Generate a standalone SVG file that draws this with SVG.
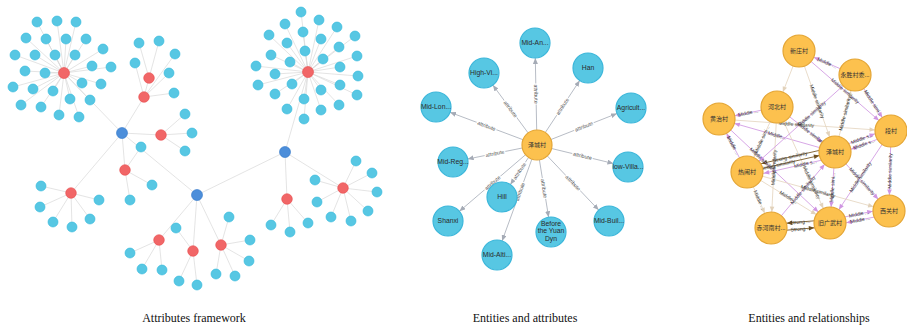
<svg xmlns="http://www.w3.org/2000/svg" width="907" height="329" viewBox="0 0 907 329">
<style>
.c{fill:#57c7e3;stroke:#33b8dc;stroke-width:0.6}
.r{fill:#f16667;stroke:#e84a4b;stroke-width:0.6}
.b{fill:#4c8eda;stroke:#2f76c8;stroke-width:0.6}
.mc{fill:#57c7e3;stroke:#3bb6da;stroke-width:1.2}
.o{fill:#fcc14e;stroke:#e4a534;stroke-width:1.2}
.le{stroke:#d9d9d9;stroke-width:0.7;fill:none}
.me{stroke:#a5abb6;stroke-width:0.8}
.pe{stroke:#d29de3;stroke-width:0.9}
.be{stroke:#e6d8c4;stroke-width:0.9}
.se{stroke:#7a5a28;stroke-width:0.9}
.ml{font-family:"Liberation Sans",Arial,sans-serif;font-size:5.3px;fill:#555;text-anchor:middle}
.rl{font-family:"Liberation Sans",Arial,sans-serif;font-size:5px;fill:#333;text-anchor:middle}
.nt{font-family:"Liberation Sans",Arial,sans-serif;font-size:6.8px;fill:#2a2a2a;text-anchor:middle}
.ct{font-family:"Noto Sans CJK SC",sans-serif;font-size:6px;fill:#333;text-anchor:middle}
.cap{font-family:"Liberation Serif","Times New Roman",serif;font-size:12px;fill:#111;text-anchor:middle}
</style>
<defs>
<marker id="mg" markerUnits="userSpaceOnUse" viewBox="0 0 6 5" markerWidth="6" markerHeight="5" refX="6" refY="2.5" orient="auto"><path d="M0 0L6 2.5L0 5z" fill="#a5abb6"/></marker>
<marker id="mp" markerUnits="userSpaceOnUse" viewBox="-23 -3 24 6" markerWidth="24" markerHeight="6" refX="0" refY="0" orient="auto"><path d="M-16 0L-21.5 -2.3L-21.5 2.3z" fill="#cf95e2"/></marker>
<marker id="mb" markerUnits="userSpaceOnUse" viewBox="-23 -3 24 6" markerWidth="24" markerHeight="6" refX="0" refY="0" orient="auto"><path d="M-16 0L-21.5 -2.3L-21.5 2.3z" fill="#e2d2bb"/></marker>
<marker id="ms" markerUnits="userSpaceOnUse" viewBox="-23 -3 24 6" markerWidth="24" markerHeight="6" refX="0" refY="0" orient="auto"><path d="M-16 0L-21.5 -2.3L-21.5 2.3z" fill="#6e5020"/></marker>
</defs>
<rect width="907" height="329" fill="#fff"/>

<g id="connectors">
<!-- left panel -->
<path class="le" d="M64 73L37 22M64 73L57 21M64 73L76 22M64 73L26 38M64 73L46 39M64 73L66 39M64 73L86 39M64 73L103 49M64 73L15 55M64 73L35 55M64 73L55 55M64 73L75 55M64 73L92 66M64 73L111 67M64 73L25 71M64 73L45 73M64 73L13 87M64 73L33 89M64 73L53 91M64 73L82 83M64 73L101 84M64 73L21 105M64 73L41 107M64 73L59 115M64 73L70 99M64 73L79 117M64 73L90 100"/>
<path class="le" d="M308 72L301 12M308 72L285 24M308 72L319 20M308 72L337 27M308 72L355 36M308 72L269 35M308 72L303 32M308 72L321 39M308 72L287 43M308 72L305 51M308 72L339 47M308 72L357 56M308 72L271 55M308 72L290 62M308 72L323 59M308 72L256 66M308 72L275 74M308 72L340 67M308 72L358 76M308 72L258 85M308 72L292 84M308 72L340 85M308 72L275 94M308 72L321 90M308 72L357 95M308 72L304 99M308 72L339 105M308 72L287 109M308 72L321 110M308 72L304 119"/>
<path class="le" d="M122 133L64 73M122 133L144 97M122 133L161 135M122 133L125 170M122 133L71 193M122 133L197 195M197 195L285 152M285 152L308 72M285 152L287 199M285 152L343 188M197 195L159 240M197 195L193 251M197 195L221 245M144 97L149 78"/>
<path class="le" d="M149 78L139 43M149 78L159 41M144 97L135 63M144 97L175 54M144 97L169 73M144 97L174 93M161 135L185 114M161 135L192 133M161 135L185 151M125 170L141 147M125 170L152 185M125 170L130 200M71 193L41 186M71 193L40 207M71 193L53 222M71 193L72 227M71 193L90 219M71 193L99 200M287 199L271 225M287 199L290 232M287 199L308 223M343 188L356 161M343 188L372 173M343 188L377 192M343 188L368 211M343 188L351 221M343 188L331 217M343 188L317 202M343 188L315 180M159 240L130 253M159 240L142 269M159 240L162 270M193 251L176 228M193 251L179 281M193 251L197 285M221 245L229 217M221 245L250 240M221 245L249 261M221 245L235 276M221 245L216 274"/>

<!-- middle panel -->
<g marker-end="url(#mg)">
<line class="me" x1="536.7" y1="130" x2="535.3" y2="58"/>
<line class="me" x1="528.1" y1="132.9" x2="492.9" y2="85.1"/>
<line class="me" x1="545.3" y1="132.5" x2="579.7" y2="80.5"/>
<line class="me" x1="523" y1="139.7" x2="450" y2="112.3"/>
<line class="me" x1="551" y1="139.5" x2="617" y2="113.5"/>
<line class="me" x1="522.3" y1="148" x2="467.7" y2="159"/>
<line class="me" x1="551.6" y1="148.5" x2="613.4" y2="163.5"/>
<line class="me" x1="528.6" y1="157.4" x2="510.4" y2="184.6"/>
<line class="me" x1="525.6" y1="154.7" x2="459.4" y2="211.3"/>
<line class="me" x1="539.4" y1="159.8" x2="548.6" y2="217.2"/>
<line class="me" x1="547.3" y1="155.9" x2="598.7" y2="210.1"/>
<line class="me" x1="531.9" y1="159.1" x2="502.1" y2="240.9"/>
</g>
<g>
<g transform="translate(536 94) rotate(88.9)"><rect x="-10.5" y="-3" width="21" height="6" fill="#fff"/><text class="ml" y="1.8">attribute</text></g>
<g transform="translate(510.5 109) rotate(53.6)"><rect x="-10.5" y="-3" width="21" height="6" fill="#fff"/><text class="ml" y="1.8">attribute</text></g>
<g transform="translate(562.5 106.5) rotate(-56.5)"><rect x="-10.5" y="-3" width="21" height="6" fill="#fff"/><text class="ml" y="1.8">attribute</text></g>
<g transform="translate(486.5 126) rotate(20.6)"><rect x="-10.5" y="-3" width="21" height="6" fill="#fff"/><text class="ml" y="1.8">attribute</text></g>
<g transform="translate(584 126.5) rotate(-21.5)"><rect x="-10.5" y="-3" width="21" height="6" fill="#fff"/><text class="ml" y="1.8">attribute</text></g>
<g transform="translate(495 153.5) rotate(-11.4)"><rect x="-10.5" y="-3" width="21" height="6" fill="#fff"/><text class="ml" y="1.8">attribute</text></g>
<g transform="translate(582.5 156) rotate(13.6)"><rect x="-10.5" y="-3" width="21" height="6" fill="#fff"/><text class="ml" y="1.8">attribute</text></g>
<g transform="translate(519.5 171) rotate(-56.1)"><rect x="-10.5" y="-3" width="21" height="6" fill="#fff"/><text class="ml" y="1.8">attribute</text></g>
<g transform="translate(492.5 183) rotate(-40.5)"><rect x="-10.5" y="-3" width="21" height="6" fill="#fff"/><text class="ml" y="1.8">attribute</text></g>
<g transform="translate(544 188.5) rotate(80.9)"><rect x="-10.5" y="-3" width="21" height="6" fill="#fff"/><text class="ml" y="1.8">attribute</text></g>
<g transform="translate(573 183) rotate(46.5)"><rect x="-10.5" y="-3" width="21" height="6" fill="#fff"/><text class="ml" y="1.8">attribute</text></g>
<g transform="translate(520 191.8) rotate(-70)"><rect x="-10.5" y="-3" width="21" height="6" fill="#fff"/><text class="ml" y="1.8">attribute</text></g>
</g>

<!-- right panel -->
<line class="pe" marker-end="url(#mp)" x1="855" y1="75" x2="799" y2="51"/>
<line class="be" marker-end="url(#mb)" x1="799" y1="51" x2="777" y2="107"/>
<line class="be" marker-end="url(#mb)" x1="799" y1="51" x2="835" y2="152"/>
<line class="pe" marker-end="url(#mp)" x1="799" y1="51" x2="891" y2="131"/>
<line class="pe" marker-end="url(#mp)" x1="855" y1="75" x2="891" y2="131"/>
<line class="be" marker-end="url(#mb)" x1="835" y1="152" x2="855" y2="75"/>
<line class="pe" marker-end="url(#mp)" x1="777" y1="107" x2="719" y2="119"/>
<line class="pe" marker-end="url(#mp)" x1="835" y1="152" x2="719" y2="119"/>
<line class="be" marker-end="url(#mb)" x1="719" y1="119" x2="891" y2="131"/>
<line class="pe" marker-end="url(#mp)" x1="747" y1="172" x2="719" y2="119"/>
<line class="be" marker-end="url(#mb)" x1="777" y1="107" x2="747" y2="172"/>
<line class="pe" marker-end="url(#mp)" x1="777" y1="107" x2="835" y2="152"/>
<line class="be" marker-end="url(#mb)" x1="777" y1="107" x2="830" y2="223"/>
<line class="se" marker-end="url(#ms)" x1="833.9" y1="147.1" x2="745.9" y2="167.1"/>
<line class="se" marker-end="url(#ms)" x1="747" y1="172" x2="835" y2="152"/>
<line class="pe" marker-end="url(#mp)" x1="836.1" y1="156.9" x2="748.1" y2="176.9"/>
<line class="pe" marker-end="url(#mp)" x1="833.95" y1="149.19" x2="889.95" y2="128.19"/>
<line class="pe" marker-end="url(#mp)" x1="892.05" y1="133.81" x2="836.05" y2="154.81"/>
<line class="pe" marker-end="url(#mp)" x1="835" y1="152" x2="830" y2="223"/>
<line class="pe" marker-end="url(#mp)" x1="829.4" y1="220.06" x2="888.4" y2="208.06"/>
<line class="pe" marker-end="url(#mp)" x1="889.6" y1="213.94" x2="830.6" y2="225.94"/>
<line class="se" marker-end="url(#ms)" x1="829.7" y1="219.51" x2="770.7" y2="224.51"/>
<line class="se" marker-end="url(#ms)" x1="771.3" y1="231.49" x2="830.3" y2="226.49"/>
<line class="pe" marker-end="url(#mp)" x1="891" y1="131" x2="889" y2="211"/>
<line class="pe" marker-end="url(#mp)" x1="835" y1="152" x2="889" y2="211"/>
<line class="pe" marker-end="url(#mp)" x1="891" y1="131" x2="830" y2="223"/>
<line class="be" marker-end="url(#mb)" x1="747" y1="172" x2="830" y2="223"/>
<line class="be" marker-end="url(#mb)" x1="747" y1="172" x2="771" y2="228"/>
<line class="be" marker-end="url(#mb)" x1="777" y1="107" x2="771" y2="228"/>
<line class="pe" marker-end="url(#mp)" x1="855" y1="75" x2="747" y2="172"/>
<line class="pe" marker-end="url(#mp)" x1="719" y1="119" x2="830" y2="223"/>
<line class="be" marker-end="url(#mb)" x1="747" y1="172" x2="889" y2="211"/>
<line class="pe" marker-end="url(#mp)" x1="771" y1="228" x2="835" y2="152"/>
<g>
<text class="rl" transform="translate(827 63) rotate(23.2)" y="1.6">Middle ...</text>
<text class="rl" transform="translate(817 101.5) rotate(70.4)" y="1.6">Middle similarity</text>
<text class="rl" transform="translate(845 91) rotate(41)" y="1.6">Middle similarity</text>
<text class="rl" transform="translate(873 103) rotate(57.3)" y="1.6">Middle simi...</text>
<text class="rl" transform="translate(845 113.5) rotate(-75.4)" y="1.6">Middle similarity</text>
<text class="rl" transform="translate(748 113) rotate(-11.7)" y="1.6">Middle ...</text>
<text class="rl" transform="translate(777 135.5) rotate(15.9)" y="1.6">Middle...</text>
<text class="rl" transform="translate(796.4 124.4) rotate(4)" y="1.6">Middle similarity</text>
<text class="rl" transform="translate(733 145.5) rotate(62.2)" y="1.6">Middle ...</text>
<text class="rl" transform="translate(762 139.5) rotate(-65.2)" y="1.6">Middle simi...</text>
<text class="rl" transform="translate(811.8 134) rotate(37.8)" y="1.6">Middle similarity</text>
<text class="rl" transform="translate(811.5 182.4) rotate(65.4)" y="1.6">Middle similarity</text>
<text class="rl" transform="translate(789.9 157.1) rotate(-12.8)" y="1.6">Strong similarity</text>
<text class="rl" transform="translate(777.8 165) rotate(-12.8)" y="1.6">Strong similarity</text>
<text class="rl" transform="translate(805.3 163.9) rotate(-12.8)" y="1.6">Middle s...</text>
<text class="rl" transform="translate(861.95 138.69) rotate(-20.6)" y="1.6">Middle s...</text>
<text class="rl" transform="translate(864.05 144.31) rotate(-20.6)" y="1.6">Middle s...</text>
<text class="rl" transform="translate(832.5 187.5) rotate(-86)" y="1.6">Middle simi...</text>
<text class="rl" transform="translate(858.9 214.06) rotate(-11.5)" y="1.6">Middle ...</text>
<text class="rl" transform="translate(860.1 219.94) rotate(-11.5)" y="1.6">Middle ...</text>
<text class="rl" transform="translate(800.2 222) rotate(-4.8)" y="1.6">Strong ...</text>
<text class="rl" transform="translate(800.8 229) rotate(-4.8)" y="1.6">Strong ...</text>
<text class="rl" transform="translate(890 171) rotate(-88.6)" y="1.6">Middle similarity</text>
<text class="rl" transform="translate(862 181.5) rotate(47.5)" y="1.6">Middle similarity</text>
<text class="rl" transform="translate(860.5 177) rotate(-56.5)" y="1.6">Middle similarity</text>
<text class="rl" transform="translate(788.5 197.5) rotate(31.6)" y="1.6">Middle ...</text>
<text class="rl" transform="translate(759 200) rotate(66.8)" y="1.6">Middle ...</text>
<text class="rl" transform="translate(774 167.5) rotate(-87.2)" y="1.6">Middle similarity</text>
<text class="rl" transform="translate(811.8 113.8) rotate(-41.9)" y="1.6">Middle similarity</text>
<text class="rl" transform="translate(763.4 160.6) rotate(43.1)" y="1.6">Middle similarity</text>
<text class="rl" transform="translate(818 191.5) rotate(15.4)" y="1.6">Middle similarity</text>
<text class="rl" transform="translate(803 190) rotate(-49.9)" y="1.6">Middle similarity</text>
</g>
</g>

<!-- left panel nodes -->
<g id="left-nodes">
<g id="l-a"><circle class="r" cx="64" cy="73" r="5.5"/></g>
<g id="l-c"><circle class="r" cx="308" cy="72" r="5.5"/></g>
<g id="l-b1"><circle class="b" cx="122" cy="133" r="5.5"/></g>
<g id="l-b2"><circle class="b" cx="197" cy="195" r="5.5"/></g>
<g id="l-b3"><circle class="b" cx="285" cy="152" r="5.5"/></g>
<g id="l-r1"><circle class="r" cx="149" cy="78" r="5.3"/></g>
<g id="l-r2"><circle class="r" cx="144" cy="97" r="5.3"/></g>
<g id="l-r3"><circle class="r" cx="161" cy="135" r="5.3"/></g>
<g id="l-r4"><circle class="r" cx="125" cy="170" r="5.3"/></g>
<g id="l-r5"><circle class="r" cx="71" cy="193" r="5.3"/></g>
<g id="l-r6"><circle class="r" cx="287" cy="199" r="5.3"/></g>
<g id="l-r7"><circle class="r" cx="343" cy="188" r="5.3"/></g>
<g id="l-r8"><circle class="r" cx="159" cy="240" r="5.3"/></g>
<g id="l-r9"><circle class="r" cx="193" cy="251" r="5.3"/></g>
<g id="l-r10"><circle class="r" cx="221" cy="245" r="5.3"/></g>
<g id="l-cyan">
<circle class="c" cx="37" cy="22" r="5"/><circle class="c" cx="57" cy="21" r="5"/><circle class="c" cx="76" cy="22" r="5"/><circle class="c" cx="26" cy="38" r="5"/><circle class="c" cx="46" cy="39" r="5"/><circle class="c" cx="66" cy="39" r="5"/><circle class="c" cx="86" cy="39" r="5"/><circle class="c" cx="103" cy="49" r="5"/><circle class="c" cx="15" cy="55" r="5"/><circle class="c" cx="35" cy="55" r="5"/><circle class="c" cx="55" cy="55" r="5"/><circle class="c" cx="75" cy="55" r="5"/><circle class="c" cx="92" cy="66" r="5"/><circle class="c" cx="111" cy="67" r="5"/><circle class="c" cx="25" cy="71" r="5"/><circle class="c" cx="45" cy="73" r="5"/><circle class="c" cx="13" cy="87" r="5"/><circle class="c" cx="33" cy="89" r="5"/><circle class="c" cx="53" cy="91" r="5"/><circle class="c" cx="82" cy="83" r="5"/><circle class="c" cx="101" cy="84" r="5"/><circle class="c" cx="21" cy="105" r="5"/><circle class="c" cx="41" cy="107" r="5"/><circle class="c" cx="59" cy="115" r="5"/><circle class="c" cx="70" cy="99" r="5"/><circle class="c" cx="79" cy="117" r="5"/><circle class="c" cx="90" cy="100" r="5"/>
<circle class="c" cx="301" cy="12" r="5"/><circle class="c" cx="285" cy="24" r="5"/><circle class="c" cx="319" cy="20" r="5"/><circle class="c" cx="337" cy="27" r="5"/><circle class="c" cx="355" cy="36" r="5"/><circle class="c" cx="269" cy="35" r="5"/><circle class="c" cx="303" cy="32" r="5"/><circle class="c" cx="321" cy="39" r="5"/><circle class="c" cx="287" cy="43" r="5"/><circle class="c" cx="305" cy="51" r="5"/><circle class="c" cx="339" cy="47" r="5"/><circle class="c" cx="357" cy="56" r="5"/><circle class="c" cx="271" cy="55" r="5"/><circle class="c" cx="290" cy="62" r="5"/><circle class="c" cx="323" cy="59" r="5"/><circle class="c" cx="256" cy="66" r="5"/><circle class="c" cx="275" cy="74" r="5"/><circle class="c" cx="340" cy="67" r="5"/><circle class="c" cx="358" cy="76" r="5"/><circle class="c" cx="258" cy="85" r="5"/><circle class="c" cx="292" cy="84" r="5"/><circle class="c" cx="340" cy="85" r="5"/><circle class="c" cx="275" cy="94" r="5"/><circle class="c" cx="321" cy="90" r="5"/><circle class="c" cx="357" cy="95" r="5"/><circle class="c" cx="304" cy="99" r="5"/><circle class="c" cx="339" cy="105" r="5"/><circle class="c" cx="287" cy="109" r="5"/><circle class="c" cx="321" cy="110" r="5"/><circle class="c" cx="304" cy="119" r="5"/>
<circle class="c" cx="139" cy="43" r="5"/><circle class="c" cx="159" cy="41" r="5"/><circle class="c" cx="135" cy="63" r="5"/><circle class="c" cx="175" cy="54" r="5"/><circle class="c" cx="169" cy="73" r="5"/><circle class="c" cx="174" cy="93" r="5"/>
<circle class="c" cx="185" cy="114" r="5"/><circle class="c" cx="192" cy="133" r="5"/><circle class="c" cx="185" cy="151" r="5"/>
<circle class="c" cx="141" cy="147" r="5"/><circle class="c" cx="152" cy="185" r="5"/><circle class="c" cx="130" cy="200" r="5"/>
<circle class="c" cx="41" cy="186" r="5"/><circle class="c" cx="40" cy="207" r="5"/><circle class="c" cx="53" cy="222" r="5"/><circle class="c" cx="72" cy="227" r="5"/><circle class="c" cx="90" cy="219" r="5"/><circle class="c" cx="99" cy="200" r="5"/>
<circle class="c" cx="271" cy="225" r="5"/><circle class="c" cx="290" cy="232" r="5"/><circle class="c" cx="308" cy="223" r="5"/>
<circle class="c" cx="356" cy="161" r="5"/><circle class="c" cx="372" cy="173" r="5"/><circle class="c" cx="377" cy="192" r="5"/><circle class="c" cx="368" cy="211" r="5"/><circle class="c" cx="351" cy="221" r="5"/><circle class="c" cx="331" cy="217" r="5"/><circle class="c" cx="317" cy="202" r="5"/><circle class="c" cx="315" cy="180" r="5"/>
<circle class="c" cx="130" cy="253" r="5"/><circle class="c" cx="142" cy="269" r="5"/><circle class="c" cx="162" cy="270" r="5"/>
<circle class="c" cx="176" cy="228" r="5"/><circle class="c" cx="179" cy="281" r="5"/><circle class="c" cx="197" cy="285" r="5"/>
<circle class="c" cx="229" cy="217" r="5"/><circle class="c" cx="250" cy="240" r="5"/><circle class="c" cx="249" cy="261" r="5"/><circle class="c" cx="235" cy="276" r="5"/><circle class="c" cx="216" cy="274" r="5"/>
</g>
</g>

<!-- middle panel nodes -->
<g id="m-center"><circle class="o" cx="537" cy="145" r="15"/><text class="ct" x="537" y="147.2">泽城村</text></g>
<g id="m-midan"><circle class="mc" cx="535" cy="43" r="15"/><text class="nt" x="535" y="45.4">Mid-An...</text></g>
<g id="m-highvi"><circle class="mc" cx="484" cy="73" r="15"/><text class="nt" x="484" y="75.4">High-Vi...</text></g>
<g id="m-han"><circle class="mc" cx="588" cy="68" r="15"/><text class="nt" x="588" y="70.4">Han</text></g>
<g id="m-midlon"><circle class="mc" cx="436" cy="107" r="15"/><text class="nt" x="436" y="109.4">Mid-Lon...</text></g>
<g id="m-agri"><circle class="mc" cx="631" cy="108" r="15"/><text class="nt" x="631" y="110.4">Agricult...</text></g>
<g id="m-midreg"><circle class="mc" cx="453" cy="162" r="15"/><text class="nt" x="453" y="164.4">Mid-Reg...</text></g>
<g id="m-lowvilla"><circle class="mc" cx="628" cy="167" r="15"/><text class="nt" x="628" y="169.4">low-Villa...</text></g>
<g id="m-hill"><circle class="mc" cx="502" cy="197" r="15"/><text class="nt" x="502" y="199.4">Hill</text></g>
<g id="m-shanxi"><circle class="mc" cx="448" cy="221" r="15"/><text class="nt" x="448" y="223.4">Shanxi</text></g>
<g id="m-before"><circle class="mc" cx="551" cy="232" r="15"/><text class="nt" x="551" y="226"><tspan x="551">Before</tspan><tspan x="551" dy="7.3">the Yuan</tspan><tspan x="551" dy="7.3">Dyn</tspan></text></g>
<g id="m-midbuil"><circle class="mc" cx="609" cy="221" r="15"/><text class="nt" x="609" y="223.4">Mid-Buil...</text></g>
<g id="m-midalti"><circle class="mc" cx="497" cy="255" r="15"/><text class="nt" x="497" y="257.4">Mid-Alti...</text></g>

<!-- right panel nodes -->
<g id="r-xinzhuang"><circle class="o" cx="799" cy="51" r="16"/><text class="ct" x="799" y="53.2">新庄村</text></g>
<g id="r-yongsheng"><circle class="o" cx="855" cy="75" r="16"/><text class="ct" x="855" y="77.2">永胜村委...</text></g>
<g id="r-hebei"><circle class="o" cx="777" cy="107" r="16"/><text class="ct" x="777" y="109.2">河北村</text></g>
<g id="r-huangzhi"><circle class="o" cx="719" cy="119" r="16"/><text class="ct" x="719" y="121.2">黄治村</text></g>
<g id="r-duan"><circle class="o" cx="891" cy="131" r="16"/><text class="ct" x="891" y="133.2">段村</text></g>
<g id="r-zecheng"><circle class="o" cx="835" cy="152" r="16"/><text class="ct" x="835" y="154.2">泽城村</text></g>
<g id="r-renao"><circle class="o" cx="747" cy="172" r="16"/><text class="ct" x="747" y="174.2">热闹村</text></g>
<g id="r-xiguan"><circle class="o" cx="889" cy="211" r="16"/><text class="ct" x="889" y="213.2">西关村</text></g>
<g id="r-jiuguangwu"><circle class="o" cx="830" cy="223" r="16"/><text class="ct" x="830" y="225.2">旧广武村</text></g>
<g id="r-chihenan"><circle class="o" cx="771" cy="228" r="16"/><text class="ct" x="771" y="230.2">赤河南村...</text></g>

<g id="captions">
<text class="cap" x="194" y="322">Attributes framework</text>
<text class="cap" x="525" y="322">Entities and attributes</text>
<text class="cap" x="809" y="322">Entities and relationships</text>
</g>
</svg>
